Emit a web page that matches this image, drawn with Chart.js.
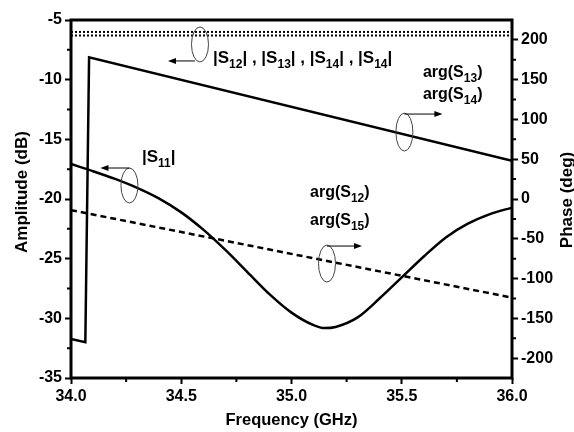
<!DOCTYPE html>
<html>
<head>
<meta charset="utf-8">
<script src="https://cdn.jsdelivr.net/npm/chart.js@4.4.1/dist/chart.umd.min.js"></script>
<style>
  html, body { margin: 0; padding: 0; background: #fff; }
</style>
</head>
<body>
<canvas id="chart" width="574" height="432"></canvas>
<script>
// axis ticks
const freqTicks = [34.0, 34.5, 35.0, 35.5, 36.0];
const ampTicks = [-35, -30, -25, -20, -15, -10, -5];
const phaseTicks = [-200, -150, -100, -50, 0, 50, 100, 150, 200];

// |S11| (dB)
const s11Freq = [34.0, 34.1, 34.2, 34.3, 34.4, 34.5, 34.6, 34.7, 34.8, 34.9, 35.0, 35.1, 35.15,
                 35.2, 35.3, 35.4, 35.5, 35.6, 35.7, 35.8, 35.9, 36.0];
const s11Amp  = [-17.07, -17.67, -18.32, -19.07, -19.97, -21.12, -22.57, -24.27, -26.12, -27.97, -29.52, -30.57, -30.82,
                 -30.72, -29.92, -28.32, -26.57, -24.82, -23.22, -22.07, -21.27, -20.72];

// |S12|..|S15| (dB), flat across the band
const coupFreq = [34.0, 36.0];
const s12s13Amp = [-6.0, -6.0];
const s14s15Amp = [-6.3, -6.3];

// arg(S13), arg(S14) (deg), wraps at -180
const argS13Freq = [34.0, 34.065, 34.082, 36.0];
const argS13 = [-176, -180, 178, 48];

// arg(S12), arg(S15) (deg)
const argS12Freq = [34.0, 36.0];
const argS12 = [-14, -124];

const pts = (xs, ys) => xs.map((v, i) => ({ x: v, y: ys[i] }));

const FONT = "'Liberation Sans', Arial, Helvetica, sans-serif";
Chart.defaults.font.family = FONT;
Chart.defaults.color = '#000';

// text with subscripts: parts = [[text, isSub], ...]
function drawSub(ctx, x, y, parts, size) {
  let cx = x;
  parts.forEach(([t, sub]) => {
    ctx.font = 'bold ' + (sub ? Math.round(size * 0.72) : size) + 'px ' + FONT;
    ctx.fillText(t, cx, sub ? y + size * 0.32 : y);
    cx += ctx.measureText(t).width;
  });
}

function arrow(ctx, x0, y0, x1, y1) {
  ctx.beginPath();
  ctx.moveTo(x0, y0);
  ctx.lineTo(x1, y1);
  ctx.stroke();
  const d = Math.sign(x1 - x0);
  ctx.beginPath();
  ctx.moveTo(x1 + d * 2, y1);
  ctx.lineTo(x1 - d * 6, y1 - 3);
  ctx.lineTo(x1 - d * 6, y1 + 3);
  ctx.closePath();
  ctx.fill();
}

// callouts: ellipse anchor in (GHz, dB), arrow direction, label lines
const callouts = [
  { f: 34.585, a: -7.05, ry: 17.5, arrowDy: 16.5, arrowLen: -30, tx: 13, ty: 18.5, gap: 0, size: 17,
    lines: [[['|S', 0], ['12', 1], ['| , |S', 0], ['13', 1], ['| , |S', 0], ['14', 1], ['| , |S', 0], ['14', 1], ['|', 0]]] },
  { f: 34.265, a: -18.87, ry: 17.5, arrowDy: -17.5, arrowLen: -27, tx: 12.5, ty: -23.5, gap: 0, size: 17,
    lines: [[['|S', 0], ['11', 1], ['|', 0]]] },
  { f: 35.512, a: -14.39, ry: 19, arrowDy: -18, arrowLen: 36, tx: 18.5, ty: -55, gap: 22, size: 16,
    lines: [[['arg(S', 0], ['13', 1], [')', 0]], [['arg(S', 0], ['14', 1], [')', 0]]] },
  { f: 35.161, a: -25.41, ry: 18.5, arrowDy: -17.5, arrowLen: 33, tx: -17, ty: -66.5, gap: 28, size: 16,
    lines: [[['arg(S', 0], ['12', 1], [')', 0]], [['arg(S', 0], ['15', 1], [')', 0]]] }
];

const decorations = {
  id: 'decorations',
  afterDraw(chart) {
    const { ctx, chartArea: a, scales: { x, y, y1 } } = chart;
    ctx.save();

    // minor ticks halfway between the labelled ones
    ctx.strokeStyle = '#000';
    ctx.lineWidth = 2;
    ctx.beginPath();
    for (let i = 0; i < freqTicks.length - 1; i++) {
      const px = x.getPixelForValue((freqTicks[i] + freqTicks[i + 1]) / 2);
      ctx.moveTo(px, a.bottom); ctx.lineTo(px, a.bottom + 4);
    }
    for (let i = 0; i < ampTicks.length - 1; i++) {
      const py = y.getPixelForValue((ampTicks[i] + ampTicks[i + 1]) / 2);
      ctx.moveTo(a.left, py); ctx.lineTo(a.left - 4, py);
    }
    for (let i = 0; i < phaseTicks.length - 1; i++) {
      const py = y1.getPixelForValue((phaseTicks[i] + phaseTicks[i + 1]) / 2);
      ctx.moveTo(a.right, py); ctx.lineTo(a.right + 4, py);
    }
    ctx.stroke();

    // plot frame
    ctx.lineWidth = 3;
    ctx.strokeRect(a.left, a.top, a.right - a.left, a.bottom - a.top);

    // vertical axis titles, both reading upward
    ctx.font = 'bold 17px ' + FONT;
    ctx.textAlign = 'center';
    ctx.textBaseline = 'middle';
    ctx.save();
    ctx.translate(22, 192);
    ctx.rotate(-Math.PI / 2);
    ctx.fillText('Amplitude (dB)', 0, 0);
    ctx.restore();
    ctx.save();
    ctx.translate(567, 200);
    ctx.rotate(-Math.PI / 2);
    ctx.fillText('Phase (deg)', 0, 0);
    ctx.restore();

    // callouts
    ctx.textAlign = 'left';
    ctx.textBaseline = 'alphabetic';
    callouts.forEach(c => {
      const cx = x.getPixelForValue(c.f);
      const cy = y.getPixelForValue(c.a);
      ctx.lineWidth = 1;
      ctx.strokeStyle = '#444';
      ctx.beginPath();
      ctx.ellipse(cx, cy, 8.5, c.ry, 0, 0, Math.PI * 2);
      ctx.stroke();
      ctx.strokeStyle = '#000';
      ctx.fillStyle = '#000';
      const ax = c.arrowLen < 0 && c.arrowDy > 0 ? cx - 5 : cx;
      arrow(ctx, ax, cy + c.arrowDy, cx + c.arrowLen, cy + c.arrowDy);
      c.lines.forEach((parts, i) => drawSub(ctx, cx + c.tx, cy + c.ty + i * c.gap, parts, c.size));
    });
    ctx.restore();
  }
};

const tickFont = { size: 16, weight: 'bold' };
const axisGrid = { drawOnChartArea: false, tickLength: 6, tickWidth: 2, tickColor: '#000' };
const setTicks = list => scale => { scale.ticks = list.map(v => ({ value: v })); };

new Chart(document.getElementById('chart'), {
  type: 'line',
  data: {
    datasets: [
      { data: pts(s11Freq, s11Amp), yAxisID: 'y', borderColor: '#000', borderWidth: 2.5, cubicInterpolationMode: 'monotone' },
      { data: pts(coupFreq, s12s13Amp), yAxisID: 'y', borderColor: '#000', borderWidth: 2, borderDash: [2, 2] },
      { data: pts(coupFreq, s14s15Amp), yAxisID: 'y', borderColor: '#000', borderWidth: 2, borderDash: [2, 2] },
      { data: pts(argS13Freq, argS13), yAxisID: 'y1', borderColor: '#000', borderWidth: 2.5 },
      { data: pts(argS12Freq, argS12), yAxisID: 'y1', borderColor: '#000', borderWidth: 2.5, borderDash: [6, 4] }
    ]
  },
  options: {
    responsive: false,
    animation: false,
    devicePixelRatio: 1,
    layout: { padding: { top: 20, left: 0, right: 0, bottom: 0 } },
    elements: { point: { radius: 0 }, line: { fill: false } },
    plugins: { legend: { display: false }, tooltip: { enabled: false } },
    scales: {
      x: {
        type: 'linear', position: 'bottom', min: 34, max: 36,
        afterBuildTicks: setTicks(freqTicks),
        afterFit: s => { s.height = 54; },
        ticks: { font: tickFont, color: '#000', padding: 3, maxRotation: 0, callback: v => v.toFixed(1) },
        grid: axisGrid,
        border: { display: false },
        title: { display: true, text: 'Frequency (GHz)', font: { size: 16.5, weight: 'bold' }, color: '#000', padding: { top: 0, bottom: 2 } }
      },
      y: {
        position: 'left', min: -35, max: -5,
        afterBuildTicks: setTicks(ampTicks),
        afterFit: s => { s.width = 71; },
        ticks: { font: tickFont, color: '#000', padding: 3 },
        grid: axisGrid,
        border: { display: false }
      },
      y1: {
        position: 'right', min: -225, max: 225,
        afterBuildTicks: setTicks(phaseTicks),
        afterFit: s => { s.width = 62; },
        ticks: { font: tickFont, color: '#000', padding: 3 },
        grid: axisGrid,
        border: { display: false }
      }
    }
  },
  plugins: [decorations]
});
</script>
</body>
</html>
